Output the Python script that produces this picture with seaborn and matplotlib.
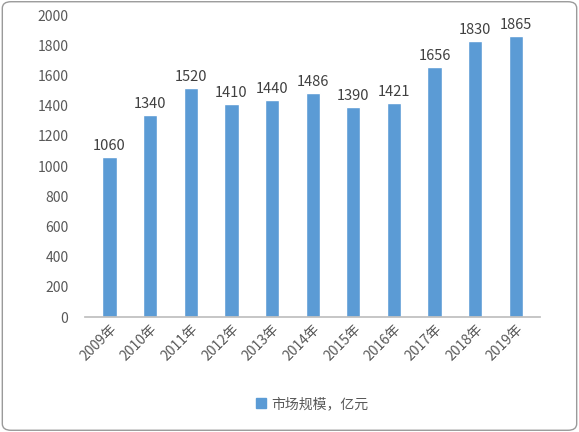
import matplotlib
matplotlib.use("Agg")
import matplotlib.pyplot as plt
import seaborn as sns
import pandas as pd
from matplotlib.patches import FancyBboxPatch, Patch

years = ["2009年", "2010年", "2011年", "2012年", "2013年", "2014年",
         "2015年", "2016年", "2017年", "2018年", "2019年"]
values = [1060, 1340, 1520, 1410, 1440, 1486, 1390, 1421, 1656, 1830, 1865]
series_name = "市场规模，亿元"

sns.set_theme(style="white")
plt.rcParams['font.family'] = ['Noto Sans CJK SC', 'DejaVu Sans']

df = pd.DataFrame({"year": years, "value": values})
color = "#5B9BD5"

fig = plt.figure(figsize=(5.79, 4.32), dpi=100)
fig.patches.append(FancyBboxPatch((0.004, 0.004), 0.992, 0.992,
                                  boxstyle="round,pad=0,rounding_size=0.015",
                                  transform=fig.transFigure, fill=False,
                                  edgecolor="#9a9a9a", linewidth=1))
ax = fig.add_axes([0.147, 0.266, 0.786, 0.699])
sns.barplot(data=df, x="year", y="value", color=color, width=0.35,
            saturation=1, ax=ax)

for i, v in enumerate(values):
    ax.text(i, v + 25, str(v), ha="center", va="bottom", fontsize=10.5, color="#404040")

ax.set_ylim(0, 2000)
ax.set_yticks(range(0, 2001, 200))
ax.set_xlim(-0.6, len(years) - 0.4)
ax.set_xlabel("")
ax.set_ylabel("")
for s in ["top", "right", "left"]:
    ax.spines[s].set_visible(False)
ax.spines["bottom"].set_color("#bfbfbf")
ax.tick_params(axis="y", labelsize=10, colors="#595959", length=0, pad=12)
ax.tick_params(axis="x", labelsize=10, colors="#595959", length=0)
plt.setp(ax.get_xticklabels(), rotation=45, ha="right", rotation_mode="anchor")

fig.legend(handles=[Patch(color=color, label=series_name)], loc="center",
           bbox_to_anchor=(0.54, 0.065), frameon=False, fontsize=10,
           handlelength=0.7, handleheight=0.7, handletextpad=0.4,
           labelcolor="#595959")

fig.savefig("out.png", dpi=100)
